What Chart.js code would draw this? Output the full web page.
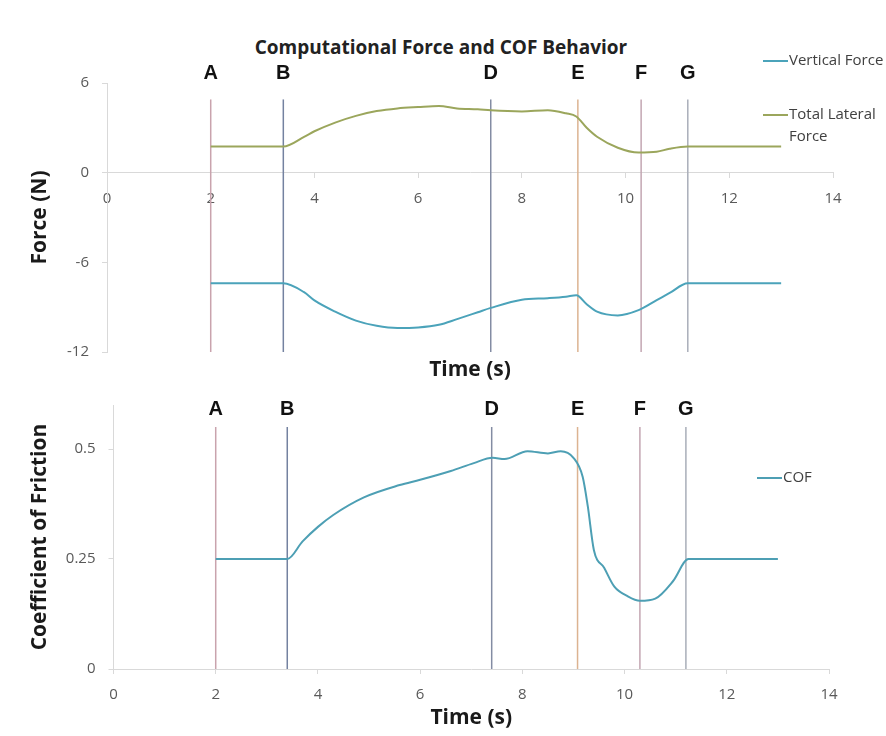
<!DOCTYPE html>
<html>
<head>
<meta charset="utf-8">
<title>Computational Force and COF Behavior</title>
<script src="https://cdn.jsdelivr.net/npm/chart.js@4.4.1/dist/chart.umd.min.js"></script>
<style>
  html, body { margin: 0; padding: 0; background: #fff; }
  #page { position: relative; width: 886px; height: 736px; overflow: hidden; }
  #title {
    position: absolute; left: 0; top: 34px; width: 882px;
    text-align: center; font: bold 19px "Open Sans", sans-serif; color: #222;
    line-height: 26px;
  }
  #force-box { position: absolute; left: 0; top: 0; width: 886px; height: 384px; }
  #cof-box { position: absolute; left: 0; top: 380px; width: 886px; height: 356px; }
</style>
</head>
<body>
<div id="page">
  <div id="title">Computational Force and COF Behavior</div>
  <div id="force-box"><canvas id="chart-force"></canvas></div>
  <div id="cof-box"><canvas id="chart-cof"></canvas></div>
</div>
<script>
// Event markers (s)
const markerNames = ['A', 'B', 'D', 'E', 'F', 'G'];
const markerTimes = [2, 3.4, 7.4, 9.08, 10.3, 11.2];
const markerColors = ['#c9a3ad', '#7482a0', '#838ca3', '#dcb391', '#c3a6b2', '#a9aeb9'];

// Force panel
const forceTime = [2, 3.4, 3.8, 4, 4.4, 4.8, 5.2, 5.6, 6, 6.4, 6.75, 7.15, 7.4, 8, 8.5, 8.85, 9.05, 9.25, 9.45, 9.85, 10.25, 10.6, 10.85, 11.2, 13];
const verticalForce = [-7.4, -7.4, -8.0, -8.55, -9.3, -9.9, -10.25, -10.4, -10.36, -10.18, -9.8, -9.34, -9.05, -8.5, -8.4, -8.3, -8.2, -8.8, -9.3, -9.55, -9.2, -8.53, -8.05, -7.4, -7.4];
const lateralForce = [1.75, 1.75, 2.4, 2.77, 3.35, 3.8, 4.12, 4.3, 4.39, 4.46, 4.3, 4.24, 4.17, 4.1, 4.17, 3.97, 3.76, 3.0, 2.4, 1.67, 1.35, 1.4, 1.6, 1.75, 1.75];
const forceTicks = [-12, -6, 0, 6];

// COF panel
const cofTime = [2, 3.4, 3.7, 4, 4.3, 4.9, 5.6, 6, 6.6, 7.05, 7.42, 7.65, 8.1, 8.5, 8.75, 9.0, 9.18, 9.28, 9.4, 9.6, 9.8, 10.05, 10.3, 10.6, 10.95, 11.25, 13];
const cofValues = [0.25, 0.25, 0.29, 0.323, 0.35, 0.39, 0.418, 0.43, 0.45, 0.468, 0.48, 0.477, 0.495, 0.49, 0.495, 0.48, 0.437, 0.37, 0.27, 0.23, 0.187, 0.166, 0.155, 0.16, 0.2, 0.25, 0.25];
const cofTicks = [0, 0.25, 0.5];
const timeTicks = [0, 2, 4, 6, 8, 10, 12, 14];

Chart.defaults.font.family = '"Open Sans", sans-serif';
Chart.defaults.font.size = 15;
Chart.defaults.color = '#595959';

const AXIS_GREY = '#d9d9d9';
const TITLE_FONT = { family: '"Open Sans", sans-serif', size: 21, weight: 'bold' };

// letters above each marker line
const markerLabels = {
  id: 'markerLabels',
  afterDraw(chart, args, opts) {
    const { ctx } = chart;
    const xs = chart.scales.x, ys = chart.scales.y;
    ctx.save();
    ctx.font = 'bold 20px "Liberation Sans", Arial, sans-serif';
    ctx.fillStyle = '#111';
    ctx.textAlign = 'center';
    ctx.textBaseline = 'middle';
    markerNames.forEach((name, i) => {
      ctx.fillText(name, xs.getPixelForValue(markerTimes[i]), ys.getPixelForValue(opts.labelY));
    });
    ctx.restore();
  }
};

// legend on the right, wrapping long names
function wrapText(ctx, text, maxWidth) {
  const lines = [];
  let line = '';
  text.split(' ').forEach(word => {
    const test = line ? line + ' ' + word : word;
    if (line && ctx.measureText(test).width > maxWidth) {
      lines.push(line);
      line = word;
    } else {
      line = test;
    }
  });
  lines.push(line);
  return lines;
}

const sideLegend = {
  id: 'sideLegend',
  afterDraw(chart, args, opts) {
    const { ctx } = chart;
    const series = chart.data.datasets.filter(ds => !ds.isMarker);
    ctx.save();
    ctx.font = '15px "Open Sans", sans-serif';
    ctx.fillStyle = '#404040';
    ctx.textBaseline = 'middle';
    series.forEach((ds, i) => {
      const y = opts.rows[i];
      ctx.strokeStyle = ds.borderColor;
      ctx.lineWidth = 2;
      ctx.beginPath();
      ctx.moveTo(opts.x, y);
      ctx.lineTo(opts.x + 25, y);
      ctx.stroke();
      wrapText(ctx, ds.label, opts.maxWidth).forEach((line, j) => {
        ctx.fillText(line, opts.x + 26, y + j * 22);
      });
    });
    ctx.restore();
  }
};

function toPoints(xs, ys) {
  return xs.map((x, i) => ({ x, y: ys[i] }));
}

function markerDatasets(yLow, yHigh) {
  return markerTimes.map((t, i) => ({
    isMarker: true,
    label: markerNames[i],
    data: [{ x: t, y: yLow }, { x: t, y: yHigh }],
    borderColor: markerColors[i],
    borderWidth: 1.5,
    pointRadius: 0
  }));
}

function seriesDataset(label, xs, ys, color) {
  return {
    label,
    data: toPoints(xs, ys),
    borderColor: color,
    backgroundColor: color,
    borderWidth: 2,
    pointRadius: 0,
    cubicInterpolationMode: 'monotone'
  };
}

const timeAxisTicks = {
  color: '#595959',
  maxRotation: 0,
  autoSkip: false
};

// Force vs time
new Chart(document.getElementById('chart-force'), {
  type: 'line',
  data: {
    datasets: [
      seriesDataset('Vertical Force', forceTime, verticalForce, '#4ba3ba'),
      seriesDataset('Total Lateral Force', forceTime, lateralForce, '#9ba65c'),
      ...markerDatasets(-12, 4.9)
    ]
  },
  plugins: [markerLabels, sideLegend],
  options: {
    responsive: true,
    maintainAspectRatio: false,
    animation: false,
    layout: { padding: { left: 23, right: 53, top: 83, bottom: 0 } },
    plugins: {
      legend: { display: false },
      tooltip: { enabled: false },
      markerLabels: { labelY: 6.67 },
      sideLegend: { x: 763, rows: [61, 115], maxWidth: 100 }
    },
    scales: {
      x: {
        type: 'linear',
        position: { y: 0 },
        min: 0,
        max: 14,
        afterBuildTicks: axis => { axis.ticks = timeTicks.map(v => ({ value: v })); },
        ticks: { ...timeAxisTicks, padding: 12 },
        grid: { drawOnChartArea: false, tickLength: 5, color: AXIS_GREY },
        border: { color: AXIS_GREY }
      },
      xTitle: {
        type: 'linear',
        position: 'bottom',
        ticks: { display: false },
        grid: { display: false, drawTicks: false },
        border: { display: false },
        title: {
          display: true,
          text: 'Time (s)',
          color: '#1a1a1a',
          font: TITLE_FONT,
          padding: { top: 5.4, bottom: 1.4 }
        }
      },
      y: {
        type: 'linear',
        min: -12,
        max: 6,
        afterFit: axis => { axis.width = 84; },
        afterBuildTicks: axis => { axis.ticks = forceTicks.map(v => ({ value: v })); },
        ticks: { color: '#595959', padding: 13 },
        grid: { drawOnChartArea: false, tickLength: 5, color: AXIS_GREY },
        border: { color: AXIS_GREY },
        title: {
          display: true,
          text: 'Force (N)',
          color: '#1a1a1a',
          font: TITLE_FONT,
          padding: { top: 4, bottom: 4 }
        }
      }
    }
  }
});

// Coefficient of friction vs time
new Chart(document.getElementById('chart-cof'), {
  type: 'line',
  data: {
    datasets: [
      seriesDataset('COF', cofTime, cofValues, '#4d9fb4'),
      ...markerDatasets(0, 0.55)
    ]
  },
  plugins: [markerLabels, sideLegend],
  options: {
    responsive: true,
    maintainAspectRatio: false,
    animation: false,
    layout: { padding: { left: 23, right: 57, top: 25, bottom: 3.4 } },
    plugins: {
      legend: { display: false },
      tooltip: { enabled: false },
      markerLabels: { labelY: 0.59 },
      sideLegend: { x: 757, rows: [98], maxWidth: 100 }
    },
    scales: {
      x: {
        type: 'linear',
        min: 0,
        max: 14,
        afterBuildTicks: axis => { axis.ticks = timeTicks.map(v => ({ value: v })); },
        ticks: { ...timeAxisTicks, padding: 12 },
        grid: { drawOnChartArea: false, tickLength: 5, color: AXIS_GREY },
        border: { color: AXIS_GREY },
        title: {
          display: true,
          text: 'Time (s)',
          color: '#1a1a1a',
          font: TITLE_FONT,
          // tick padding is counted twice in the axis height, pull the title back up
          padding: { top: -10.6, bottom: 2 }
        }
      },
      y: {
        type: 'linear',
        min: 0,
        max: 0.6,
        afterFit: axis => { axis.width = 90.5; },
        afterBuildTicks: axis => { axis.ticks = cofTicks.map(v => ({ value: v })); },
        ticks: { color: '#595959', padding: 13, callback: v => String(v) },
        grid: { drawOnChartArea: false, tickLength: 5, color: AXIS_GREY },
        border: { color: AXIS_GREY },
        title: {
          display: true,
          text: 'Coefficient of Friction',
          color: '#1a1a1a',
          font: TITLE_FONT,
          padding: { top: 4, bottom: 4 }
        }
      }
    }
  }
});
</script>
</body>
</html>
